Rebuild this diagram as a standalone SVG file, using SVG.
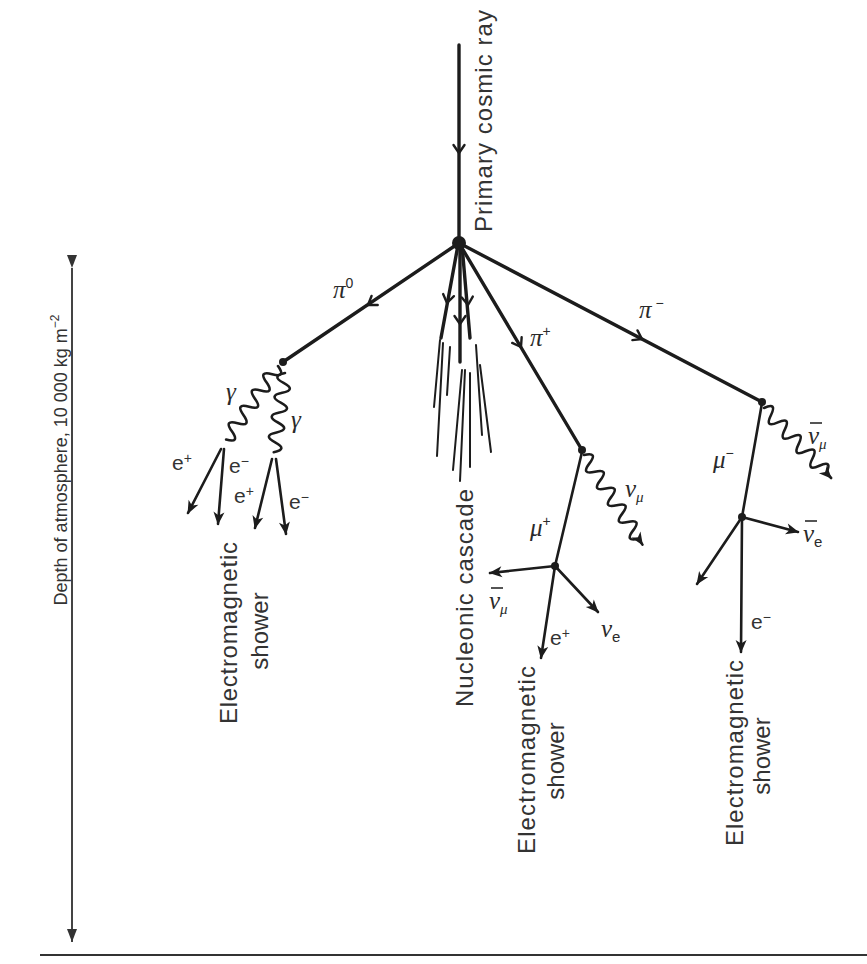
<svg xmlns="http://www.w3.org/2000/svg" width="867" height="964" viewBox="0 0 867 964">
  <style>
    .ln { stroke: #1c1c1c; fill: none; stroke-linecap: round; stroke-linejoin: round; }
    .thick { stroke-width: 3.4; }
    .mid { stroke-width: 2.6; }
    .thin { stroke-width: 2; }
    .wave { stroke: #1c1c1c; fill: none; stroke-width: 2.6; stroke-linecap: round; }
    .chev { stroke: #1c1c1c; fill: none; stroke-width: 2.4; stroke-linecap: round; stroke-linejoin: round; }
    .dot { fill: #1c1c1c; }
    .sans { font-family: "Liberation Sans", Arial, sans-serif; fill: #333; }
    .big { font-size: 24px; }
    .lab { font-size: 21px; }
    .greek { font-family: "Liberation Serif", "Times New Roman", serif; font-style: italic; fill: #2a2a2a; font-size: 25px; }
    .sup { font-family: "Liberation Sans", Arial, sans-serif; font-style: normal; font-size: 14px; }
    .sub { font-size: 15px; }
    .bar { stroke: #2a2a2a; stroke-width: 1.6; }
  </style>
  <defs>
    <path id="chevron" d="M-8,-5.5 L0,0 L-8,5.5"/>
    <marker id="head" markerUnits="userSpaceOnUse" markerWidth="16" markerHeight="14" viewBox="-14 -7 16 14" refX="0" refY="0" orient="auto">
      <path d="M1,0 L-12,-5.5 L-8.5,0 L-12,5.5 Z" fill="#1c1c1c"/>
    </marker>
    <marker id="tri" markerUnits="userSpaceOnUse" markerWidth="16" markerHeight="16" viewBox="-14 -8 16 16" refX="0" refY="0" orient="auto">
      <path d="M0,0 L-13,-5 L-13,5 Z" fill="#333"/>
    </marker>
  </defs>

  <rect width="867" height="964" fill="#ffffff"/>

  <!-- ground and atmosphere depth scale -->
  <g id="ground">
    <line x1="40" y1="955" x2="867" y2="955" stroke="#333" stroke-width="2.2"/>
  </g>
  <g id="depth-scale">
    <line x1="72" y1="268" x2="72" y2="942" stroke="#444" stroke-width="2" marker-start="url(#tri)" marker-end="url(#tri)"/>
    <text class="sans" transform="translate(67,460) rotate(-90)" text-anchor="middle" font-size="18" fill="#555">Depth of atmosphere, 10 000 kg m<tspan dy="-8" font-size="12">−2</tspan></text>
  </g>

  <g id="connectors">
    <!-- primary particle -->
    <line class="ln thick" x1="459" y1="45" x2="459" y2="243"/>
    <!-- pions -->
    <line class="ln thick" x1="459" y1="243" x2="283" y2="362"/>
    <line class="ln thick" x1="459" y1="243" x2="762" y2="402"/>
    <line class="ln thick" x1="459" y1="243" x2="582" y2="450"/>
    <!-- nucleon tracks -->
    <line class="ln thick" x1="458" y1="245" x2="441" y2="338"/>
    <line class="ln thick" x1="460" y1="245" x2="460" y2="362"/>
    <line class="ln thick" x1="462" y1="245" x2="470" y2="338"/>
    <!-- nucleonic cascade -->
    <g class="ln thin">
      <line x1="440" y1="340" x2="434" y2="407"/>
      <line x1="443" y1="343" x2="437" y2="456"/>
      <line x1="450" y1="347" x2="447" y2="395"/>
      <line x1="462" y1="370" x2="453" y2="470"/>
      <line x1="465" y1="370" x2="460" y2="481"/>
      <line x1="470" y1="373" x2="470" y2="467"/>
      <line x1="476" y1="345" x2="482" y2="435"/>
      <line x1="480" y1="365" x2="491" y2="452"/>
    </g>

    <!-- direction chevrons -->
    <use href="#chevron" class="chev" transform="translate(459,153) rotate(90)"/>
    <use href="#chevron" class="chev" transform="translate(368,305) rotate(145.9)"/>
    <use href="#chevron" class="chev" transform="translate(642,339) rotate(27.7)"/>
    <use href="#chevron" class="chev" transform="translate(521,347) rotate(59.3)"/>
    <use href="#chevron" class="chev" transform="translate(447,303) rotate(101)"/>
    <use href="#chevron" class="chev" transform="translate(460,324) rotate(90)"/>
    <use href="#chevron" class="chev" transform="translate(468,305) rotate(85)"/>

    <!-- neutral pion decay: two photons -->
    <path class="wave" transform="translate(278,366) rotate(125.2)" d="M0,0 q5,-14 10,0 t10,0 t10,0 t10,0 t10,0 t10,0 t10,0 t10,0 t10,0"/>
    <path class="wave" transform="translate(285,373) rotate(98.1)" d="M0,0 q5,14 10,0 t10,0 t10,0 t10,0 t10,0 t10,0 t10,0 t10,0"/>
    <!-- pair production -->
    <line class="ln mid" x1="221" y1="449" x2="188" y2="513" marker-end="url(#head)"/>
    <line class="ln mid" x1="224" y1="449" x2="218" y2="524" marker-end="url(#head)"/>
    <line class="ln mid" x1="272" y1="459" x2="255" y2="528" marker-end="url(#head)"/>
    <line class="ln mid" x1="276" y1="459" x2="286" y2="534" marker-end="url(#head)"/>

    <!-- positive pion decay -->
    <path class="wave" transform="translate(584,455) rotate(56.9)" d="M0,0 q5,-14 10,0 t10,0 t10,0 t10,0 t10,0 t10,0 t10,0 t10,0 t10,0 t10,0 l7,0" marker-end="url(#head)"/>
    <line class="ln mid" x1="582" y1="452" x2="555" y2="566"/>
    <line class="ln mid" x1="555" y1="566" x2="490" y2="573" marker-end="url(#head)"/>
    <line class="ln mid" x1="555" y1="566" x2="598" y2="612" marker-end="url(#head)"/>
    <line class="ln mid" x1="555" y1="566" x2="541" y2="658" marker-end="url(#head)"/>

    <!-- negative pion decay -->
    <path class="wave" transform="translate(764,408) rotate(46.2)" d="M0,0 q5,-14 10,0 t10,0 t10,0 t10,0 t10,0 t10,0 t10,0 t10,0 t10,0 l7,0" marker-end="url(#head)"/>
    <line class="ln mid" x1="762" y1="403" x2="742" y2="517"/>
    <line class="ln mid" x1="742" y1="517" x2="798" y2="532" marker-end="url(#head)"/>
    <line class="ln mid" x1="742" y1="517" x2="697" y2="584" marker-end="url(#head)"/>
    <line class="ln mid" x1="742" y1="517" x2="741" y2="652" marker-end="url(#head)"/>
  </g>

  <!-- interaction vertices -->
  <g id="vertex-primary"><circle class="dot" cx="459" cy="243" r="7"/></g>
  <g id="vertex-pi0"><circle class="dot" cx="283" cy="362" r="4"/></g>
  <g id="vertex-piplus"><circle class="dot" cx="582" cy="450" r="4"/></g>
  <g id="vertex-piminus"><circle class="dot" cx="762" cy="402" r="4"/></g>
  <g id="vertex-muplus"><circle class="dot" cx="555" cy="566" r="4"/></g>
  <g id="vertex-muminus"><circle class="dot" cx="742" cy="517" r="4"/></g>

  <g id="primary-label">
    <text class="sans big" transform="translate(492,121) rotate(-90)" text-anchor="middle" textLength="222">Primary cosmic ray</text>
  </g>

  <g id="particle-labels">
    <text class="greek" x="333" y="298">π<tspan class="sup" dy="-10">0</tspan></text>
    <text class="greek" x="639" y="318">π<tspan class="sup" dy="-10"> −</tspan></text>
    <text class="greek" x="530" y="346">π<tspan class="sup" dy="-10">+</tspan></text>
    <text class="greek" x="226" y="400">γ</text>
    <text class="greek" x="291" y="428">γ</text>
    <text class="sans lab" x="172" y="470">e<tspan dy="-7" font-size="14">+</tspan></text>
    <text class="sans lab" x="229" y="473">e<tspan dy="-7" font-size="14">−</tspan></text>
    <text class="sans lab" x="234" y="503">e<tspan dy="-7" font-size="14">+</tspan></text>
    <text class="sans lab" x="289" y="509">e<tspan dy="-7" font-size="14">−</tspan></text>

    <text class="greek" x="625" y="497">ν<tspan class="sub" dy="5">μ</tspan></text>
    <text class="greek" x="530" y="536">μ<tspan class="sup" dy="-10">+</tspan></text>
    <text class="greek" x="489" y="609">ν<tspan class="sub" dy="5">μ</tspan></text>
    <line class="bar" x1="491" y1="588" x2="503" y2="588"/>
    <text class="greek" x="601" y="637">ν<tspan class="sub" dy="5" font-family="Liberation Sans, Arial, sans-serif" font-style="normal">e</tspan></text>
    <text class="sans lab" x="550" y="645">e<tspan dy="-7" font-size="14">+</tspan></text>

    <text class="greek" x="808" y="444">ν<tspan class="sub" dy="5">μ</tspan></text>
    <line class="bar" x1="810" y1="423" x2="822" y2="423"/>
    <text class="greek" x="713" y="468">μ<tspan class="sup" dy="-10">−</tspan></text>
    <text class="greek" x="803" y="542">ν<tspan class="sub" dy="5" font-family="Liberation Sans, Arial, sans-serif" font-style="normal">e</tspan></text>
    <line class="bar" x1="805" y1="521" x2="817" y2="521"/>
    <text class="sans lab" x="751" y="629">e<tspan dy="-7" font-size="14">−</tspan></text>
  </g>

  <g id="shower-labels">
    <text class="sans big" transform="translate(237,633) rotate(-90)" text-anchor="middle" textLength="182">Electromagnetic</text>
    <text class="sans big" transform="translate(268,631) rotate(-90)" text-anchor="middle">shower</text>
    <text class="sans big" transform="translate(473,598) rotate(-90)" text-anchor="middle" textLength="218">Nucleonic cascade</text>
    <text class="sans big" transform="translate(535,760) rotate(-90)" text-anchor="middle" textLength="188">Electromagnetic</text>
    <text class="sans big" transform="translate(564,761) rotate(-90)" text-anchor="middle">shower</text>
    <text class="sans big" transform="translate(743,753) rotate(-90)" text-anchor="middle" textLength="186">Electromagnetic</text>
    <text class="sans big" transform="translate(770,756) rotate(-90)" text-anchor="middle">shower</text>
  </g>
</svg>
